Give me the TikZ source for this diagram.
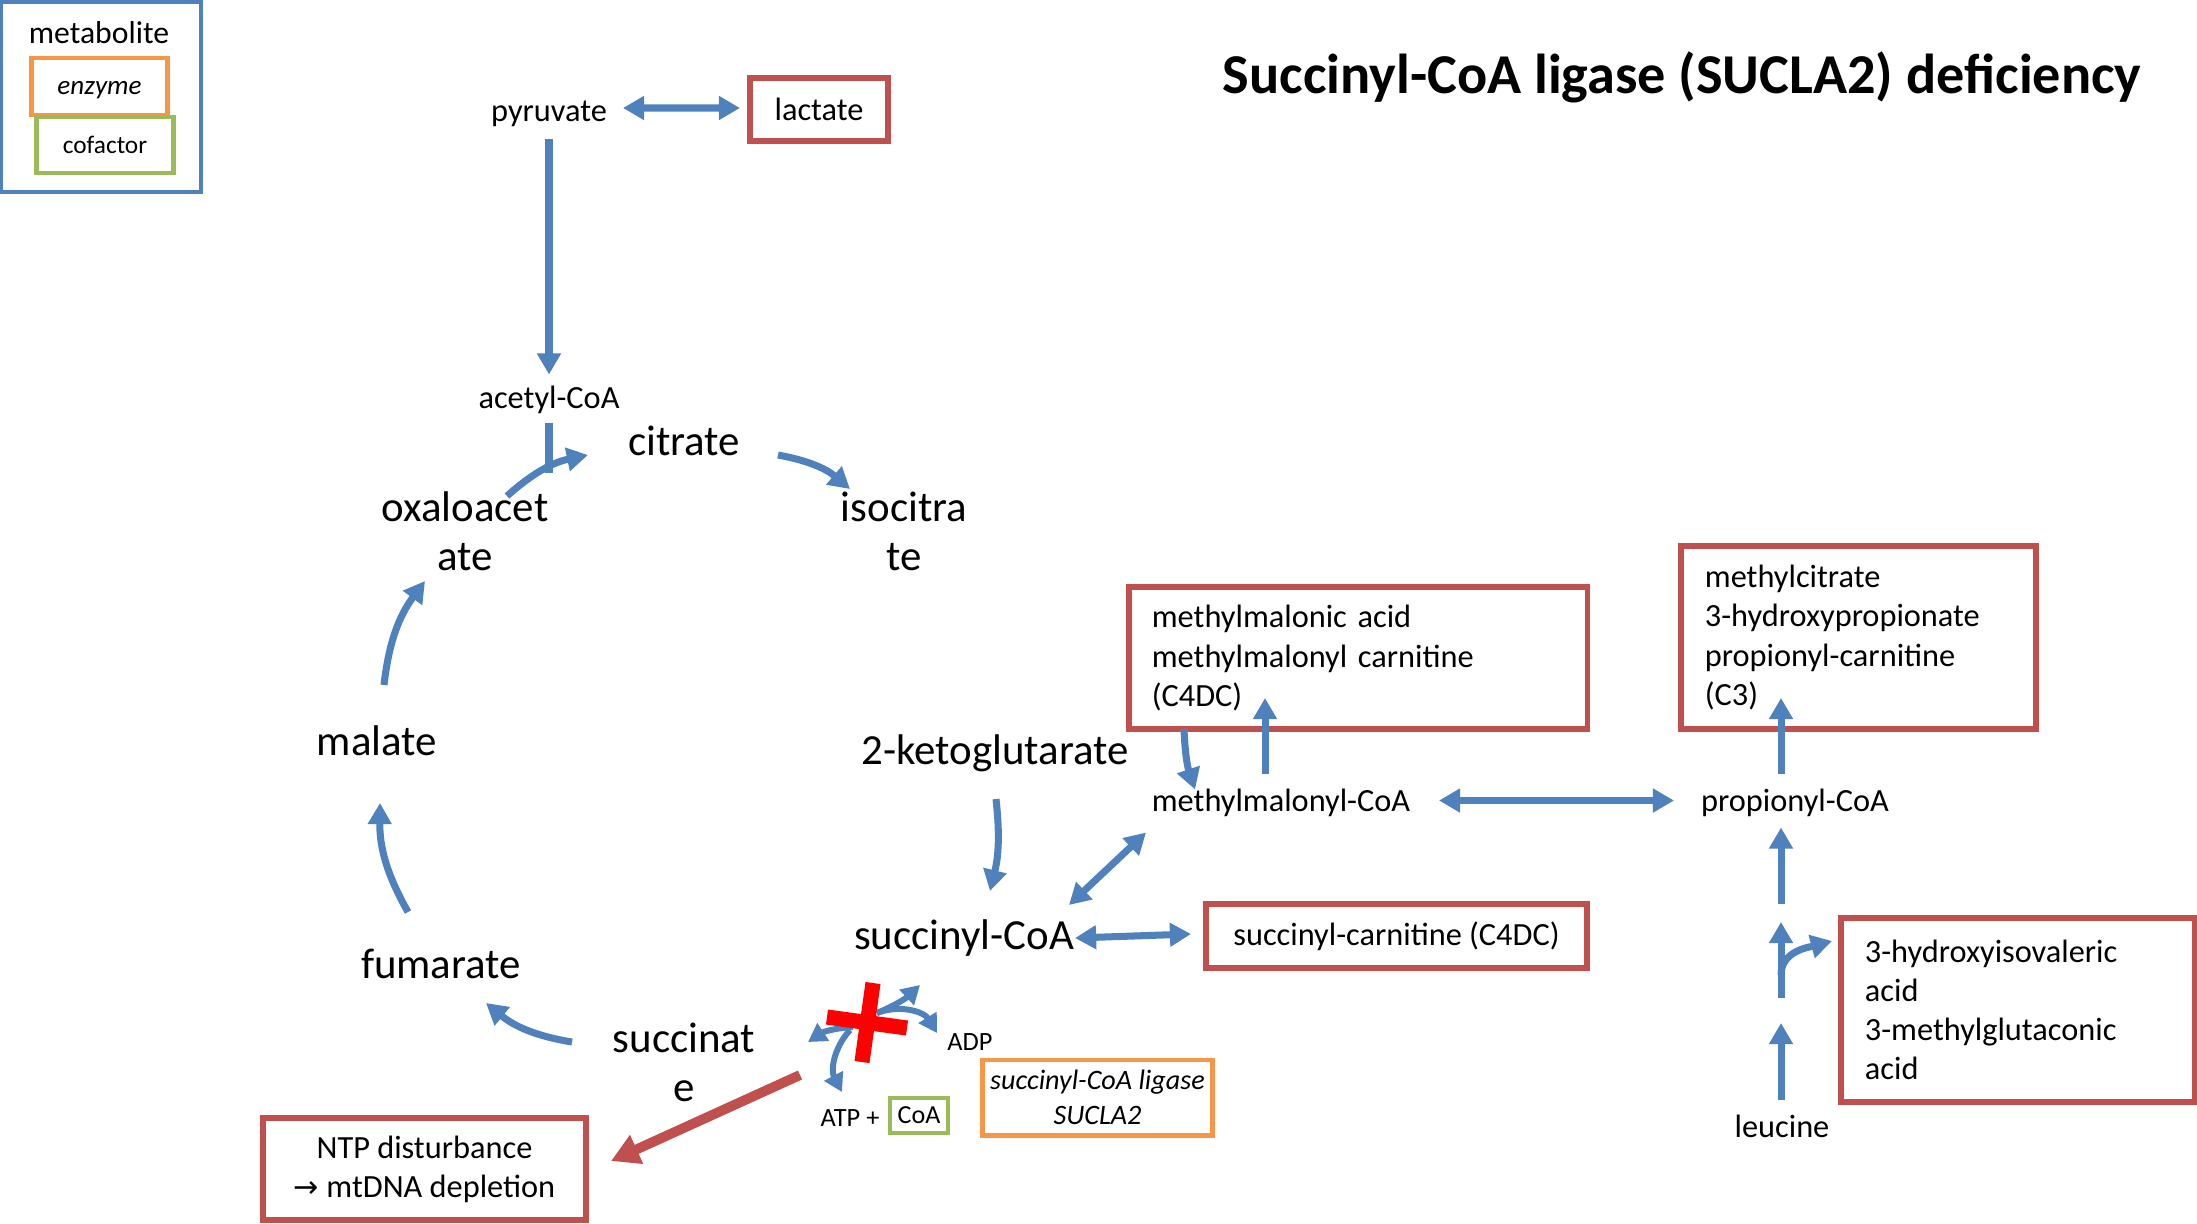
\documentclass[tikz,border=0pt]{standalone}
\usepackage{fontspec}
\setmainfont{Carlito}
\newfontfamily\arrowfont{DejaVu Sans}
\usetikzlibrary{arrows.meta,calc}
\definecolor{flowblue}{RGB}{79,129,189}
\definecolor{metred}{RGB}{192,80,77}
\definecolor{enzorange}{RGB}{247,150,70}
\definecolor{cofgreen}{RGB}{155,187,89}

\begin{document}
\begin{tikzpicture}[x=0.01cm, y=0.01cm,
    bigtext/.style={font=\fontsize{12.2}{14}\selectfont, align=center, inner sep=0pt},
    medtext/.style={font=\fontsize{9.2}{11.1}\selectfont, inner sep=0pt},
    plaintext/.style={medtext, yshift=-0.025cm},
    smalltext/.style={font=\fontsize{7.5}{9}\selectfont, inner sep=0pt},
    metbox/.style={medtext, draw=metred, line width=1.5pt, inner xsep=0.23cm},
    flow/.style={flowblue, line width=2pt, -{Triangle[width=6.5pt,length=6pt]}},
    twoway/.style={flow, {Triangle[width=6.5pt,length=6pt]}-{Triangle[width=6.5pt,length=6pt]}},
    smallflow/.style={flowblue, line width=1.7pt, -{Triangle[width=5.8pt,length=5.2pt]}},
    redflow/.style={metred, line width=2.8pt, -{Triangle[width=8.5pt,length=8pt]}},
  ]
    \path[use as bounding box, fill=white] (0,-1223) rectangle (2197,0);

    \draw[flowblue, line width=0.9pt] (1,-2) rectangle (201,-192);
    \node[medtext, font=\fontsize{9}{11}\selectfont] (lmet) at (99,-33) {metabolite};
    \node[smalltext, font=\fontsize{7.7}{9}\itshape, draw=enzorange, line width=1.4pt,
      minimum width=1.35cm, minimum height=0.57cm, text height=1.4ex, text depth=0.4ex] (lenz) at (99.5,-86.5) {enzyme};
    \node[smalltext, font=\fontsize{7.2}{9}\selectfont, draw=cofgreen, line width=1.4pt,
      minimum width=1.36cm, minimum height=0.56cm] (lcof) at (105,-145) {cofactor};

    \node[font=\fontsize{16}{19}\bfseries, inner sep=0pt] (title) at (1682,-77)
      {Succinyl-CoA ligase (SUCLA2) deficiency};

    \node[plaintext] (pyr) at (549,-111) {pyruvate};
    \node[metbox, minimum width=1.38cm, minimum height=0.63cm] (lac) at (819,-109.5) {lactate};
    \node[plaintext] (acoa) at (549,-397) {acetyl-CoA};
    \node[bigtext] (cit) at (684,-441) {citrate};
    \node[bigtext] (oaa) at (465,-531) {oxaloacet\\ate};
    \node[bigtext] (icit) at (904,-531) {isocitra\\te};
    \node[bigtext] (mal) at (377,-741) {malate};
    \node[bigtext] (fum) at (441,-964) {fumarate};
    \node[bigtext] (succ) at (684,-1062) {succinat\\e};
    \node[bigtext, yshift=-0.02cm] (scoa) at (964,-936) {succinyl-CoA};
    \node[bigtext, yshift=-0.02cm] (akg) at (995,-751) {2-ketoglutarate};
    \node[plaintext] (mmcoa) at (1281,-800) {methylmalonyl-CoA};
    \node[plaintext] (prop) at (1795,-800) {propionyl-CoA};
    \node[medtext] (leu) at (1782,-1126) {leucine};

    \node[metbox, minimum width=4.58cm, minimum height=1.42cm, text width=4.12cm, align=left]
      (mma) at (1358,-658) {methylmalonic acid\\methylmalonyl carnitine\\(C4DC)};
    \node[metbox, minimum width=3.55cm, minimum height=1.83cm, text width=3.07cm, align=left]
      (mcit) at (1858.5,-637.5) {methylcitrate\\3-hydroxypropionate\\propionyl-carnitine\\(C3)};
    \node[metbox, minimum width=3.54cm, minimum height=1.84cm, text width=3.06cm, align=left]
      (hiva) at (2018,-1010) {3-hydroxyisovaleric\\acid\\3-methylglutaconic\\acid};
    \node[metbox, minimum width=3.81cm, minimum height=0.64cm] (scarn) at (1396.5,-936)
      {succinyl-carnitine (C4DC)};
    \node[metbox, minimum width=3.23cm, minimum height=1.02cm, align=center] (ntp) at (424.5,-1169)
      {NTP disturbance\\{\arrowfont\fontsize{8.6}{11}\selectfont →} mtDNA depletion};

    \node[smalltext] (adp) at (970,-1042) {ADP};
    \node[smalltext] (atp) at (850,-1118) {ATP +};
    \node[smalltext, font=\fontsize{7.4}{9}\selectfont, draw=cofgreen, line width=1.2pt,
      minimum width=0.58cm, minimum height=0.35cm] (coa) at (919,-1115.5) {CoA};
    \node[smalltext, font=\fontsize{8}{10}\itshape, align=center, draw=enzorange, line width=1.4pt,
      minimum width=2.29cm, minimum height=0.75cm] (sucla) at (1097.5,-1097.5)
      {succinyl-CoA ligase\\SUCLA2};

    \draw[twoway] ($(pyr)+(74,5.5)$) -- ($(lac)+(-79,1.5)$);
    \draw[flow] ($(pyr)+(0,-25)$) -- ($(acoa)+(0,25)$);
    \draw[flowblue, line width=2pt] ($(acoa)+(0,-23)$) -- ($(acoa)+(0,-73)$);
    \draw[flow] ($(oaa)+(42,35)$) to[bend left=15] ($(cit)+(-96,-14)$);
    \draw[flow] ($(cit)+(94,-14)$) to[bend left=15] ($(icit)+(-54,42)$);
    \draw[flow] ($(mal)+(7,56)$) to[bend left=15] ($(oaa)+(-40,-50)$);
    \draw[flow] ($(fum)+(-33,52)$) to[bend left=15] ($(mal)+(3,-62)$);
    \draw[flow] ($(succ)+(-112,20)$) to[bend left=15] ($(fum)+(45,-39)$);
    \draw[flow] ($(akg)+(1,-46)$) to[bend left=10] ($(scoa)+(26,47)$);
    \draw[twoway] ($(scoa)+(105,33)$) -- ($(mmcoa)+(-135,-30)$);
    \draw[twoway] ($(scoa)+(111,0)$) -- ($(scarn)+(-205.5,2)$);
    \draw[twoway] ($(mmcoa)+(158,2)$) -- ($(prop)+(-121,2)$);
    \draw[flow] ($(mmcoa)+(-16,29)$) -- ($(mma)+(-93,-40)$);
    \draw[flow] ($(mma)+(-174,-71)$) to[bend right=8] ($(mmcoa)+(-86,13)$);
    \draw[flow] ($(prop)+(-14,29)$) -- ($(mcit)+(-77.5,-60.5)$);
    \foreach \lo/\hi in {26/103, 128/204}{
      \draw[flow] ($(leu)+(-1,\lo)$) -- ($(leu)+(-1,\hi)$);
    }
    \draw[flow] ($(prop)+(-14,-101)$) -- ($(prop)+(-14,-25)$);
    \draw[flow] ($(leu)+(-1,151)$) to[out=90, in=195] ($(hiva)+(-186,69)$);
    \draw[redflow] ($(succ)+(116,-13)$) -- ($(ntp)+(186.5,8)$);

    \coordinate (hub) at (855,-1025);
    \draw[smallflow] ($(hub)+(22,12)$) to[bend right=10] ($(scoa)+(-44,-47)$);
    \draw[smallflow] ($(hub)+(22,12)$) to[bend left=40] ($(adp)+(-33,9)$);
    \draw[smallflow] ($(hub)+(-2,-2)$) to[bend right=15] ($(succ)+(124,20)$);
    \draw[smallflow] ($(hub)+(-5,-5)$) to[bend right=35] ($(atp)+(-8,26)$);
    \draw[red, line width=4.3pt] ($(hub)+(-28,8)$) -- ($(hub)+(52,-3)$);
    \draw[red, line width=4.3pt] ($(hub)+(18,42)$) -- ($(hub)+(7,-37)$);
\end{tikzpicture}
\end{document}
